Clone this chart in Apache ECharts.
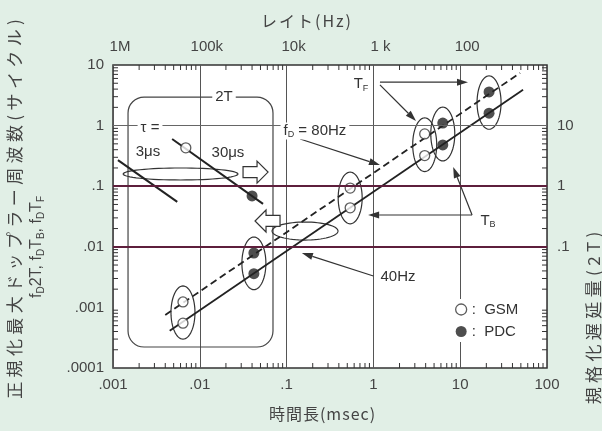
<!DOCTYPE html>
<html>
<head>
<meta charset="utf-8">
<script src="https://cdn.jsdelivr.net/npm/echarts@6/dist/echarts.min.js"></script>
<style>
  html, body { margin: 0; padding: 0; background: #e1efe6; }
  #chart { width: 602px; height: 431px; }
</style>
</head>
<body>
<div id="chart"></div>
<script>
// 正規化ドップラー周波数 vs 時間長 (GSM / PDC)

// 軸の目盛
var timeTicks = [0.001, 0.01, 0.1, 1, 10, 100];
var timeLabels = ['.001', '.01', '.1', '1', '10', '100'];
var rateLabels = ['1M', '100k', '10k', '1 k', '100', ''];
var normTicks = [0.0001, 0.001, 0.01, 0.1, 1, 10];
var normLabels = ['.0001', '.001', '.01', '.1', '1', '10'];
var delayLabels = ['', '', '.1', '1', '10', ''];

// GSM (白丸) : 時間長, fD*TF, fD*TB
var gsmTimes = [0.0064, 0.54, 3.9];
var gsmTF = [0.00123, 0.093, 0.73];
var gsmTB = [0.00055, 0.044, 0.32];
// PDC (黒丸)
var pdcTimes = [0.042, 6.3, 21.5];
var pdcTF = [0.0079, 1.1, 3.6];
var pdcTB = [0.0036, 0.48, 1.6];
// 2T の点
var gsm2T = [0.0069, 0.43];
var pdc2T = [0.040, 0.069];

// 直線
var line80Hz = [[0.004, 0.00075], [49, 7.4]];
var line40Hz = [[0.0045, 0.00041], [53, 3.9]];
var tau30us = [[0.0048, 0.60], [0.0535, 0.051]];
var tau3us = [[0.00114, 0.27], [0.0055, 0.055]];

// 注記 (データ座標)
var box2T = [[0.00149, 2.96], [0.0697, 0.000222]];
var flatEllipses = [[0.00131, 0.0275, 0.159], [0.068, 0.391, 0.0182]];
var arrowFrom = [[1.19, 5.2], [1.19, 4.7], [13.7, 0.0335], [13.7, 0.0335], [0.143, 0.60], [1.0, 0.0033]];
var arrowTo = [[12.3, 5.2], [3.1, 1.19], [0.87, 0.0335], [8.3, 0.207], [1.19, 0.224], [0.15, 0.0079]];
var blockArrowAt = [[0.0433, 0.171], [0.0611, 0.0267]];
var blockArrowDir = [1, -1];
var noteTexts = ['2T', 'τ =', '3μs', '30μs', '{n|f}{s|D}{n| = 80Hz}', '{n|T}{s|F}', '{n|T}{s|B}', '40Hz'];
var noteAt = [[0.019, 2.96], [0.00267, 0.91], [0.00253, 0.366], [0.0211, 0.353], [0.212, 0.815], [0.72, 4.85], [20.9, 0.0267], [1.92, 0.00318]];

var numFont = "'Liberation Sans', Arial, sans-serif";
var cjkFont = "'Noto Sans CJK JP', sans-serif";
var ink = '#333';

function lookup(ticks, labels) {
  return function (v) {
    var k = Math.round(Math.log10(v));
    for (var i = 0; i < ticks.length; i++) {
      if (Math.round(Math.log10(ticks[i])) === k) return labels[i];
    }
    return '';
  };
}

function pairs(xs, ys) {
  return xs.map(function (x, i) { return [x, ys[i]]; });
}

function ellipsePts(cx, cy, rx, ry) {
  var pts = [];
  for (var i = 0; i < 64; i++) {
    var a = i / 64 * Math.PI * 2;
    pts.push([cx + rx * Math.cos(a), cy + ry * Math.sin(a)]);
  }
  return pts;
}

// 縦長の楕円 (TF, TB の組)
var ovalX = gsmTimes.concat(pdcTimes);
var ovalTop = gsmTF.concat(pdcTF);
var ovalBot = gsmTB.concat(pdcTB);

function renderOval(params, api) {
  var i = params.dataIndex;
  var a = api.coord([ovalX[i], ovalTop[i]]);
  var b = api.coord([ovalX[i], ovalBot[i]]);
  var ry = Math.abs(b[1] - a[1]) / 2 + 16;
  return {
    type: 'polygon',
    shape: { points: ellipsePts((a[0] + b[0]) / 2, (a[1] + b[1]) / 2, 12, ry) },
    style: { fill: 'none', stroke: ink, lineWidth: 1.2 }
  };
}

function renderFlat(params, api) {
  var e = flatEllipses[params.dataIndex];
  var a = api.coord([e[0], e[2]]);
  var b = api.coord([e[1], e[2]]);
  var ry = params.dataIndex === 0 ? 6 : 9;
  return {
    type: 'polygon',
    shape: { points: ellipsePts((a[0] + b[0]) / 2, a[1], (b[0] - a[0]) / 2, ry) },
    style: { fill: 'none', stroke: ink, lineWidth: 1.2 }
  };
}

function renderArrow(params, api) {
  var i = params.dataIndex;
  var p = api.coord(arrowFrom[i]);
  var q = api.coord(arrowTo[i]);
  var dx = q[0] - p[0], dy = q[1] - p[1];
  var len = Math.sqrt(dx * dx + dy * dy);
  var ux = dx / len, uy = dy / len;
  var bx = q[0] - ux * 11, by = q[1] - uy * 11;
  return {
    type: 'group',
    children: [
      { type: 'line', shape: { x1: p[0], y1: p[1], x2: bx, y2: by }, style: { stroke: ink, lineWidth: 1.2 } },
      { type: 'polygon', shape: { points: [[q[0], q[1]], [bx - uy * 3.5, by + ux * 3.5], [bx + uy * 3.5, by - ux * 3.5]] },
        style: { fill: ink } }
    ]
  };
}

function renderBlockArrow(params, api) {
  var i = params.dataIndex;
  var c = api.coord(blockArrowAt[i]);
  var d = blockArrowDir[i];
  var rel = [[-12, -5.5], [2, -5.5], [2, -11], [13, 0], [2, 11], [2, 5.5], [-12, 5.5]];
  return {
    type: 'polygon',
    shape: { points: rel.map(function (r) { return [c[0] + d * r[0], c[1] + r[1]]; }) },
    style: { fill: '#fff', stroke: ink, lineWidth: 1.2 }
  };
}

function renderBox(params, api) {
  var a = api.coord(box2T[0]);
  var b = api.coord(box2T[1]);
  return {
    type: 'rect',
    shape: { x: a[0], y: a[1], width: b[0] - a[0], height: b[1] - a[1], r: 16 },
    style: { fill: 'none', stroke: '#444', lineWidth: 1.2 }
  };
}

function renderNote(params, api) {
  var i = params.dataIndex;
  var p = api.coord(noteAt[i]);
  return {
    type: 'text',
    x: p[0], y: p[1],
    style: {
      text: noteTexts[i],
      align: 'center', verticalAlign: 'middle',
      fontFamily: numFont, fontSize: 15, fill: ink,
      backgroundColor: '#fff', padding: [0, 3],
      rich: {
        n: { fontFamily: numFont, fontSize: 15, lineHeight: 17, fill: ink },
        s: { fontFamily: numFont, fontSize: 9, lineHeight: 9, verticalAlign: 'bottom', fill: ink }
      }
    }
  };
}

// 副目盛 (2..9 x 10^k)
function minorValues(lo, hi) {
  var out = [];
  for (var k = lo; k < hi; k++) {
    for (var m = 2; m <= 9; m++) out.push(m * Math.pow(10, k));
  }
  return out;
}
var xMinor = minorValues(-3, 2);
var yMinor = minorValues(-4, 1);

function renderMinorTicks(params, api) {
  var kids = [];
  var st = { stroke: ink, lineWidth: 1 };
  xMinor.forEach(function (v) {
    var b = api.coord([v, 0.0001]);
    var t = api.coord([v, 10]);
    kids.push({ type: 'line', shape: { x1: b[0], y1: b[1], x2: b[0], y2: b[1] - 5 }, style: st });
    kids.push({ type: 'line', shape: { x1: t[0], y1: t[1], x2: t[0], y2: t[1] + 5 }, style: st });
  });
  yMinor.forEach(function (v) {
    var l = api.coord([0.001, v]);
    var r = api.coord([100, v]);
    kids.push({ type: 'line', shape: { x1: l[0], y1: l[1], x2: l[0] + 5, y2: l[1] }, style: st });
    kids.push({ type: 'line', shape: { x1: r[0], y1: r[1], x2: r[0] - 5, y2: r[1] }, style: st });
  });
  return { type: 'group', children: kids };
}

function spaced(str) {
  return str.split('').map(function (ch) { return '{c|' + ch + '}'; }).join('');
}

var chart = echarts.init(document.getElementById('chart'));

var option = {
  backgroundColor: '#e1efe6',
  animation: false,
  grid: {
    left: 113, top: 65, width: 434, height: 303,
    show: true, backgroundColor: '#fff', borderColor: ink, borderWidth: 1.5
  },
  xAxis: [
    {
      type: 'log', logBase: 10, min: 0.001, max: 100, position: 'bottom',
      axisLine: { show: false }, axisTick: { show: false },
      splitLine: { show: true, lineStyle: { color: '#555', width: 1 } },
      axisLabel: { margin: 9, fontSize: 15, color: '#444', fontFamily: numFont, formatter: lookup(timeTicks, timeLabels) }
    },
    {
      type: 'log', logBase: 10, min: 0.001, max: 100, position: 'top',
      axisLine: { show: false }, axisTick: { show: false }, splitLine: { show: false },
      axisLabel: { margin: 11, fontSize: 15, color: '#444', fontFamily: numFont, padding: [0, 0, 0, 14],
                   formatter: lookup(timeTicks, rateLabels) }
    }
  ],
  yAxis: [
    {
      type: 'log', logBase: 10, min: 0.0001, max: 10, position: 'left',
      axisLine: { show: false }, axisTick: { show: false }, splitLine: { show: false },
      axisLabel: { margin: 9, fontSize: 15, color: '#444', fontFamily: numFont, formatter: lookup(normTicks, normLabels) }
    },
    {
      type: 'log', logBase: 10, min: 0.0001, max: 10, position: 'right',
      axisLine: { show: false }, axisTick: { show: false }, splitLine: { show: false },
      axisLabel: { margin: 10, fontSize: 15, color: '#444', fontFamily: numFont, formatter: lookup(normTicks, delayLabels) }
    }
  ],
  legend: {
    left: 447, top: 299, orient: 'vertical', selectedMode: false,
    backgroundColor: '#fff', padding: [3, 10, 3, 8], itemGap: 7,
    itemWidth: 11, itemHeight: 11,
    textStyle: { fontSize: 15, color: ink, fontFamily: numFont },
    formatter: function (n) { return ':  ' + n; },
    data: [
      { name: 'GSM', icon: 'circle', itemStyle: { color: '#fff', borderColor: ink, borderWidth: 1.3 } },
      { name: 'PDC', icon: 'circle', itemStyle: { color: '#222' } }
    ]
  },
  graphic: [
    {
      type: 'text', x: 306, y: 21,
      style: { text: spaced('レイト(Hz)'), align: 'center', verticalAlign: 'middle', fill: '#444',
               rich: { c: { fontFamily: cjkFont, fontSize: 16, padding: [0, 1], fill: '#444' } } }
    },
    {
      type: 'text', x: 322, y: 414,
      style: { text: spaced('時間長(msec)'), align: 'center', verticalAlign: 'middle', fill: '#444',
               rich: { c: { fontFamily: cjkFont, fontSize: 16, padding: [0, 0.5], fill: '#444' } } }
    },
    {
      type: 'text', x: 15, y: 209, rotation: Math.PI / 2,
      style: { text: spaced('正規化最大ドップラー周波数(サイクル)'), align: 'center', verticalAlign: 'middle', fill: '#444',
               rich: { c: { fontFamily: cjkFont, fontSize: 17, padding: [0, 2.2], fill: '#444' } } }
    },
    {
      type: 'text', x: 37, y: 247, rotation: Math.PI / 2,
      style: {
        text: '{n|f}{s|D}{n|2T, f}{s|D}{n|T}{s|B}{n|, f}{s|D}{n|T}{s|F}',
        align: 'center', verticalAlign: 'middle', fill: '#444',
        rich: {
          n: { fontFamily: numFont, fontSize: 16, lineHeight: 18, fill: '#444' },
          s: { fontFamily: numFont, fontSize: 10, lineHeight: 10, verticalAlign: 'bottom', fill: '#444' }
        }
      }
    },
    {
      type: 'text', x: 594, y: 318, rotation: Math.PI / 2,
      style: { text: spaced('規格化遅延量(2T)'), align: 'center', verticalAlign: 'middle', fill: '#444',
               rich: { c: { fontFamily: cjkFont, fontSize: 17, padding: [0, 2.2], fill: '#444' } } }
    }
  ],
  series: [
    {
      name: 'grid', type: 'line', data: [], z: 1, silent: true,
      markLine: {
        silent: true, symbol: ['none', 'none'], label: { show: false }, animation: false,
        data: [
          { yAxis: 1, lineStyle: { color: '#666', width: 1, type: 'solid' } },
          { yAxis: 0.1, lineStyle: { color: '#5e1f3c', width: 2, type: 'solid' } },
          { yAxis: 0.01, lineStyle: { color: '#5e1f3c', width: 2, type: 'solid' } },
          { yAxis: 0.001, lineStyle: { color: '#666', width: 1, type: 'solid' } }
        ]
      }
    },
    { type: 'custom', renderItem: renderMinorTicks, data: [[1, 1]], silent: true, z: 2 },
    {
      name: 'fD=80Hz', type: 'line', data: line80Hz, symbol: 'none', silent: true, z: 2,
      lineStyle: { color: '#222', width: 1.8, type: [7, 4] }
    },
    {
      name: '40Hz', type: 'line', data: line40Hz, symbol: 'none', silent: true, z: 2,
      lineStyle: { color: '#222', width: 1.8 }
    },
    {
      name: '30us', type: 'line', data: tau30us, symbol: 'none', silent: true, z: 2,
      lineStyle: { color: '#222', width: 2 }
    },
    {
      name: '3us', type: 'line', data: tau3us, symbol: 'none', silent: true, z: 2,
      lineStyle: { color: '#222', width: 2 }
    },
    { type: 'custom', renderItem: renderBox, data: [box2T[0]], silent: true, z: 2 },
    { type: 'custom', renderItem: renderOval, data: pairs(ovalX, ovalTop), silent: true, z: 2 },
    { type: 'custom', renderItem: renderFlat, data: flatEllipses.map(function (e) { return [e[0], e[2]]; }), silent: true, z: 2 },
    { type: 'custom', renderItem: renderArrow, data: arrowFrom, silent: true, z: 2 },
    { type: 'custom', renderItem: renderBlockArrow, data: blockArrowAt, silent: true, z: 2 },
    {
      name: 'GSM', type: 'scatter', symbol: 'circle', symbolSize: 10, z: 3,
      data: pairs(gsmTimes, gsmTF).concat(pairs(gsmTimes, gsmTB)).concat([gsm2T]),
      itemStyle: { color: '#fff', borderColor: ink, borderWidth: 1.3 }
    },
    {
      name: 'PDC', type: 'scatter', symbol: 'circle', symbolSize: 11, z: 3,
      data: pairs(pdcTimes, pdcTF).concat(pairs(pdcTimes, pdcTB)).concat([pdc2T]),
      itemStyle: { color: '#222' }
    },
    { type: 'custom', renderItem: renderNote, data: noteAt, silent: true, z: 5 }
  ]
};

chart.setOption(option);
</script>
</body>
</html>
